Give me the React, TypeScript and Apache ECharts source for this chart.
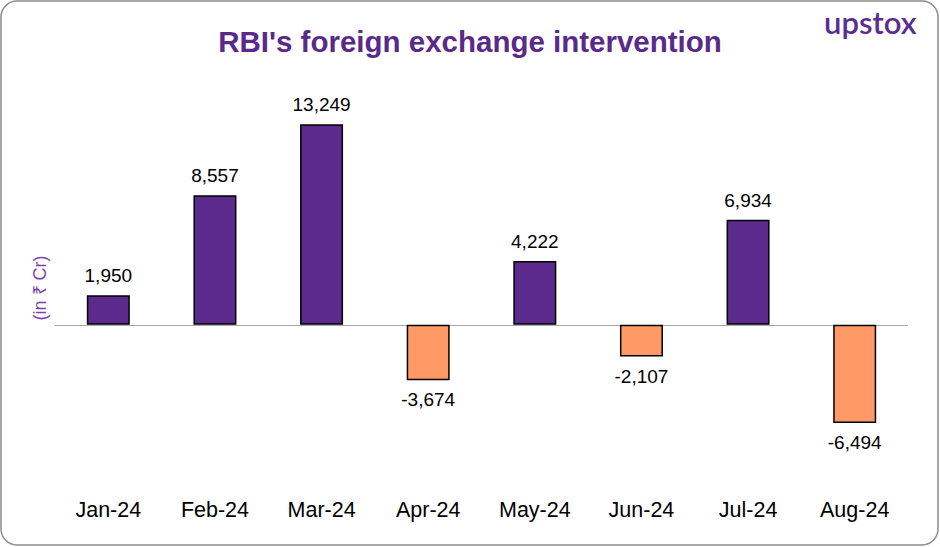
import React, { useEffect, useRef } from "react";
import * as echarts from "echarts";

const categories = ["Jan-24", "Feb-24", "Mar-24", "Apr-24", "May-24", "Jun-24", "Jul-24", "Aug-24"];
const values = [1950, 8557, 13249, -3674, 4222, -2107, 6934, -6494];
const titleText = "RBI's foreign exchange intervention";
const yLabel = "(in ₹ Cr)";

const PURPLE = "#5B2A8C";
const SALMON = "#FF9966";

export default function App() {
  const ref = useRef<HTMLDivElement>(null);
  useEffect(() => {
    document.body.style.margin = "0";
    const chart = echarts.init(ref.current!, null, { renderer: "svg" });
    chart.setOption({
      animation: false,
      backgroundColor: "#fff",
      title: {
        text: titleText,
        left: "center",
        top: 21,
        textStyle: { color: "#5A2A8A", fontSize: 29.5, fontWeight: "bold", fontFamily: "Liberation Sans" },
      },
      grid: { left: 55, right: 32, top: 113, bottom: 71, containLabel: false },
      xAxis: {
        type: "category",
        data: categories,
        axisLine: { show: false },
        axisTick: { show: false },
        axisLabel: { color: "#000", fontSize: 21.5, fontFamily: "Liberation Sans", margin: 23 },
      },
      yAxis: {
        type: "value",
        min: -10000,
        max: 14000,
        show: false,
        splitLine: { show: false },
      },
      graphic: [
        {
          type: "rect",
          shape: { x: 1, y: 1, width: 937, height: 544, r: 16 },
          style: { fill: "none", stroke: "#8c8c8c", lineWidth: 1.5 },
          z: 100,
        },
        {
          type: "text",
          x: 40,
          y: 288,
          rotation: Math.PI / 2,
          style: {
            text: yLabel,
            fill: "#7B3FB0",
            fontSize: 18,
            fontFamily: "Liberation Sans",
            align: "center",
            verticalAlign: "middle",
          },
        },
        {
          type: "text",
          x: 824,
          y: 6,
          style: {
            text: "upstox",
            fill: "#5A2D91",
            fontSize: 31,
            fontWeight: 600,
            fontFamily: "Lato",
          },
        },
      ],
      series: [
        {
          type: "bar",
          data: values.map((v) => ({
            value: v,
            itemStyle: { color: v >= 0 ? PURPLE : SALMON },
            label: { position: v >= 0 ? "top" : "bottom" },
          })),
          barWidth: 43,
          itemStyle: { borderColor: "#000", borderWidth: 1.5 },
          label: {
            show: true,
            distance: 10,
            color: "#000",
            fontSize: 19,
            fontFamily: "Liberation Sans",
            formatter: (p: any) => Number(p.value).toLocaleString("en-US"),
          },
          markLine: {
            silent: true,
            symbol: "none",
            label: { show: false },
            lineStyle: { color: "#a6a6a6", type: "solid", width: 1.2 },
            data: [{ yAxis: 0 }],
            z: 0,
          },
          z: 2,
        },
      ],
    });
    return () => chart.dispose();
  }, []);
  return <div ref={ref} style={{ width: 940, height: 547, position: "absolute", left: 0, top: 0 }} />;
}
